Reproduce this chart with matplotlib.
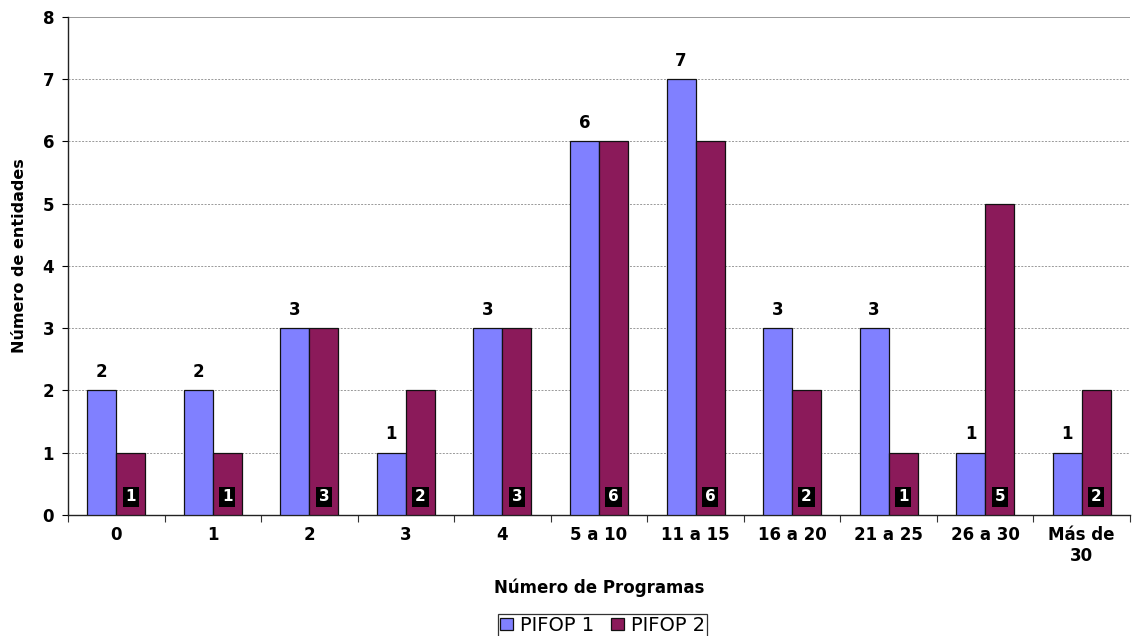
import matplotlib
matplotlib.use("Agg")
import matplotlib.pyplot as plt
import numpy as np

categories = ["0", "1", "2", "3", "4", "5 a 10", "11 a 15", "16 a 20",
              "21 a 25", "26 a 30", "Más de\n30"]
pifop1 = [2, 2, 3, 1, 3, 6, 7, 3, 3, 1, 1]
pifop2 = [1, 1, 3, 2, 3, 6, 6, 2, 1, 5, 2]
series_names = ["PIFOP 1", "PIFOP 2"]

plt.rcParams["font.family"] = ["DejaVu Sans"]

fig = plt.figure(figsize=(11.35, 6.36), dpi=100)
ax = fig.add_axes([0.0599, 0.1903, 0.9357, 0.7830])

x = np.arange(len(categories))
w = 0.30
c1 = "#8080FF"
c2 = "#8B1A5A"

b1 = ax.bar(x - w / 2, pifop1, w, color=c1, edgecolor="#111111", linewidth=0.9,
            label=series_names[0], zorder=3)
b2 = ax.bar(x + w / 2, pifop2, w, color=c2, edgecolor="#111111", linewidth=0.9,
            label=series_names[1], zorder=3)

for xi, v in zip(x, pifop1):
    ax.text(xi - w / 2, v + 0.30, str(v), ha="center", va="center",
            fontsize=12, fontweight="bold", color="black", zorder=4)

for xi, v in zip(x, pifop2):
    ax.text(xi + w / 2, 0.29, str(v), ha="center", va="center",
            fontsize=11, fontweight="bold", color="white", zorder=4,
            bbox=dict(boxstyle="square,pad=0.18", fc="black", ec="none"))

ax.set_xlim(-0.5, len(categories) - 0.5)
ax.set_ylim(0, 8)
ax.set_yticks(range(0, 9))
ax.set_yticklabels([str(i) for i in range(0, 9)], fontsize=12, fontweight="bold")

# category labels centred, tick marks between groups
ax.set_xticks(x)
ax.set_xticklabels(categories, fontsize=12, fontweight="bold", linespacing=1.2)
ax.tick_params(axis="x", length=0, pad=8)
ax.set_xticks(np.arange(-0.5, len(categories), 1), minor=True)
ax.tick_params(axis="x", which="minor", length=5, width=0.8, direction="out",
               color="#333333")
ax.tick_params(axis="y", length=4, width=0.8, direction="out", pad=6)

for yv in range(1, 8):
    ax.axhline(yv, color="#999999", linestyle=(0, (2, 1.5)), linewidth=0.7, zorder=1)
ax.axhline(8, color="#888888", linewidth=1.2, zorder=1)

ax.spines["top"].set_visible(False)
ax.spines["right"].set_visible(False)
ax.spines["left"].set_color("#222222")
ax.spines["bottom"].set_color("#222222")
ax.spines["left"].set_linewidth(1.0)
ax.spines["bottom"].set_linewidth(1.0)

ax.set_ylabel("Número de entidades", fontsize=11.5, fontweight="bold")
ax.yaxis.set_label_coords(-0.0386, 0.52)
ax.set_xlabel("Número de Programas", fontsize=12, fontweight="bold", labelpad=10)

leg = fig.legend(handles=[b1, b2], labels=series_names, loc="center",
                 bbox_to_anchor=(0.531, 0.0165), ncol=2, frameon=True,
                 fancybox=False, edgecolor="black", fontsize=14,
                 handlelength=0.65, handleheight=0.6, handletextpad=0.35,
                 columnspacing=0.9, borderpad=0.1, borderaxespad=0)
leg.get_frame().set_linewidth(0.9)

fig.savefig("out.png", dpi=100)
